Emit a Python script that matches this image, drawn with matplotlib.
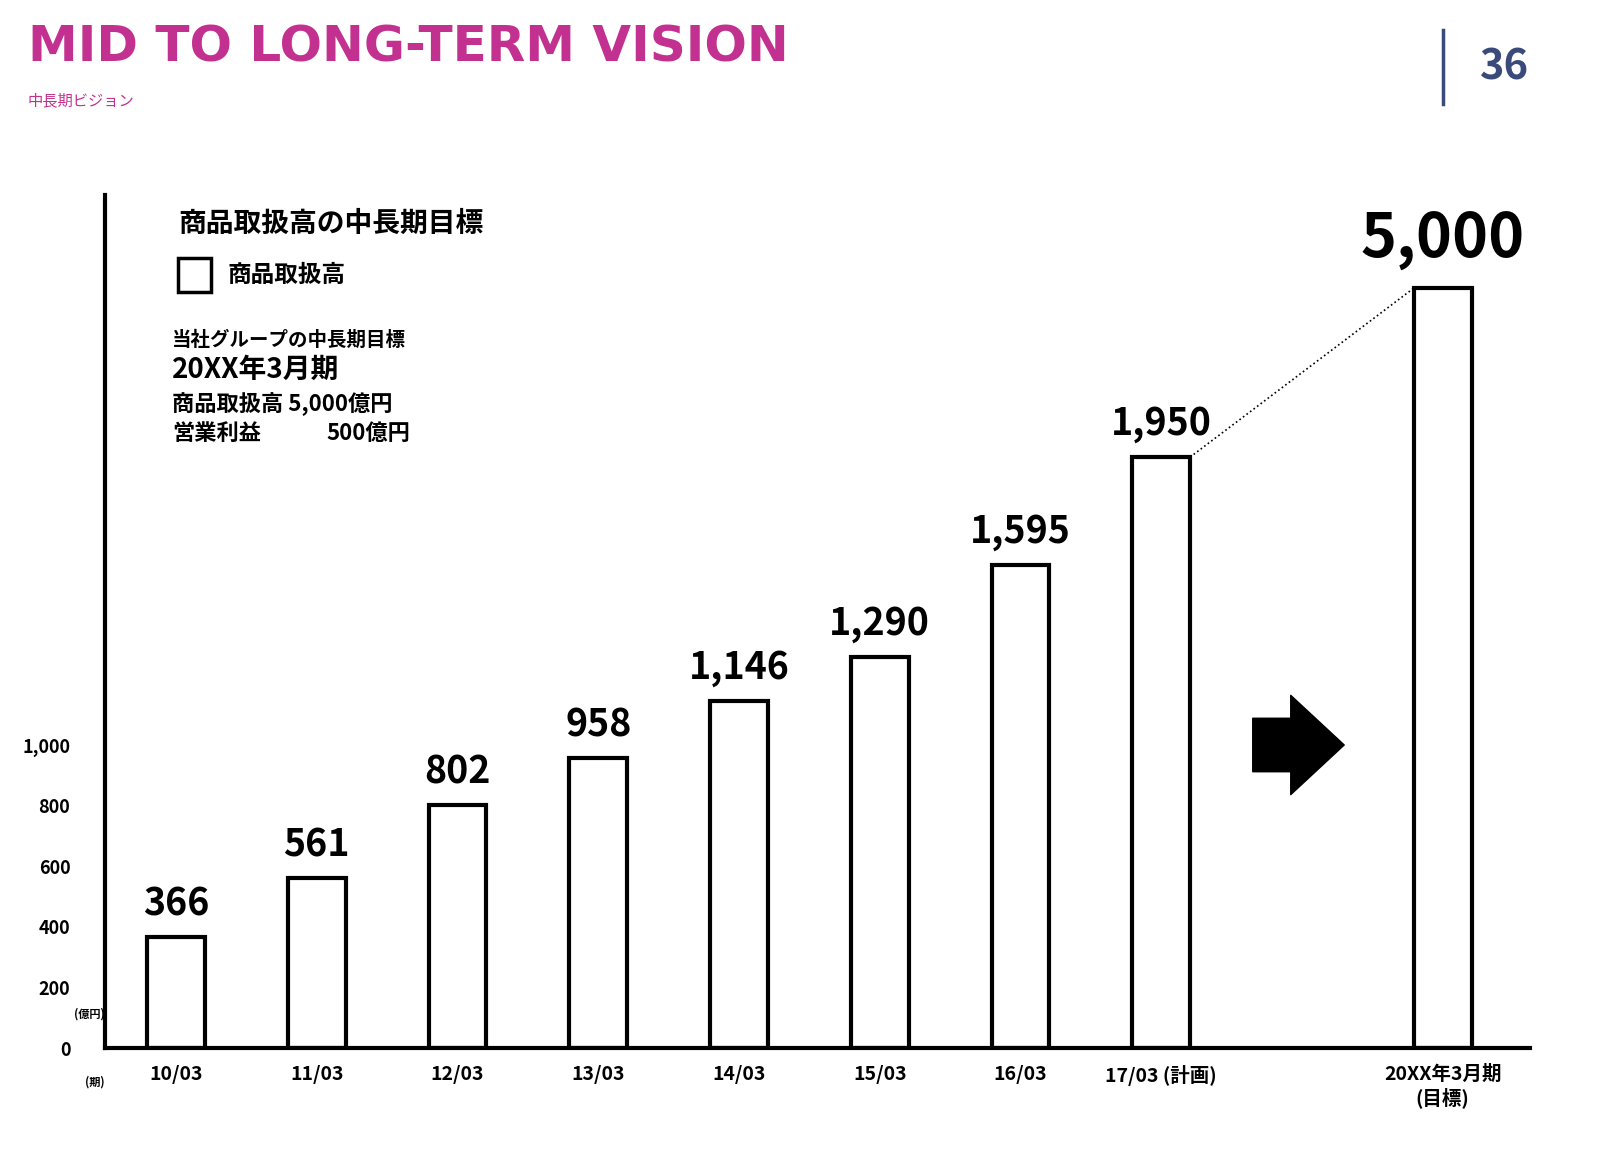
import matplotlib
matplotlib.use("Agg")
import matplotlib.pyplot as plt

plt.rcParams["font.family"] = ["Noto Sans CJK JP"]

periods = ["10/03", "11/03", "12/03", "13/03", "14/03", "15/03", "16/03", "17/03 (計画)"]
values = [366, 561, 802, 958, 1146, 1290, 1595, 1950]
target_label = "20XX年3月期\n(目標)"
target_value = 5000
target_drawn = 2508          # the target bar is drawn compressed (not to scale)
yticks = [0, 200, 400, 600, 800, 1000]

W, H = 1600, 1149
fig = plt.figure(figsize=(16, 11.49), dpi=100)

def fx(px):
    return px / W

def fy(py):
    return 1 - py / H

ax = fig.add_axes([fx(105), fy(1048), fx(1530 - 105), fy(195) - fy(1048)])
xs = list(range(len(values)))
xt = 9
ax.bar(xs, values, width=0.41, facecolor="white", edgecolor="black", linewidth=3)
ax.bar([xt], [target_drawn], width=0.41, facecolor="white", edgecolor="black", linewidth=3)
for x, v in zip(xs, values):
    ax.text(x, v + 45, f"{v:,}", ha="center", va="bottom", fontsize=27, fontweight="bold")
ax.text(xt, target_drawn + 60, f"{target_value:,}", ha="center", va="bottom",
        fontsize=44, fontweight="bold")
# dotted connector
ax.plot([xs[-1] + 0.205, xt - 0.205], [values[-1], target_drawn], ls=":", color="black", lw=1.2)
# arrow
ax.annotate("", xy=(8.3, 1000), xytext=(7.65, 1000),
            arrowprops=dict(arrowstyle="simple,head_width=1.3,head_length=0.7,tail_width=0.7",
                            mutation_scale=55, color="black", shrinkA=0, shrinkB=0))

ax.set_xlim(-0.505, 9.62)
ax.set_ylim(0, 2815)
for s in ["top", "right"]:
    ax.spines[s].set_visible(False)
ax.spines["left"].set_linewidth(3)
ax.spines["bottom"].set_linewidth(3)
ax.set_yticks(yticks)
ax.set_yticklabels([f"{t:,}" for t in yticks], fontsize=13, fontweight="bold")
ax.tick_params(axis="y", length=0, pad=25)
ax.set_xticks(xs + [xt])
ax.set_xticklabels(periods + [target_label], fontsize=14, fontweight="bold", va="top")
ax.tick_params(axis="x", length=0, pad=12)
ax.text(-0.505, 100, "(億円)", transform=ax.transData, ha="right", fontsize=8, fontweight="bold")
fig.text(fx(105), fy(1082), "(期)", fontsize=8, fontweight="bold", ha="right", va="center")

# header
fig.text(fx(28), fy(48), "MID TO LONG-TERM VISION", fontsize=36, fontweight="bold",
         family="DejaVu Sans", color="#c2318f", va="center")
fig.text(fx(28), fy(101), "中長期ビジョン", fontsize=11, color="#c2318f", va="center")
fig.add_artist(plt.Line2D([fx(1443), fx(1443)], [fy(30), fy(104)], color="#3a4a7a", lw=2.5))
fig.text(fx(1505), fy(67), "36", fontsize=30, fontweight="bold", color="#3a4a7a",
         ha="center", va="center")

# legend and notes
fig.text(fx(178), fy(224), "商品取扱高の中長期目標", fontsize=20, fontweight="bold", va="center")
fig.add_artist(plt.Rectangle((fx(178), fy(292)), fx(33), fy(258) - fy(292),
                             facecolor="white", edgecolor="black", lw=2.5))
fig.text(fx(228), fy(275), "商品取扱高", fontsize=17, fontweight="bold", va="center")
fig.text(fx(172), fy(340), "当社グループの中長期目標", fontsize=14, fontweight="bold", va="center")
fig.text(fx(172), fy(370), "20XX年3月期", fontsize=20, fontweight="bold", va="center")
fig.text(fx(172), fy(404), "商品取扱高 5,000億円", fontsize=16, fontweight="bold", va="center")
fig.text(fx(172), fy(433), "営業利益", fontsize=16, fontweight="bold", va="center")
fig.text(fx(326), fy(433), "500億円", fontsize=16, fontweight="bold", va="center")

fig.savefig("out.png", dpi=100)
